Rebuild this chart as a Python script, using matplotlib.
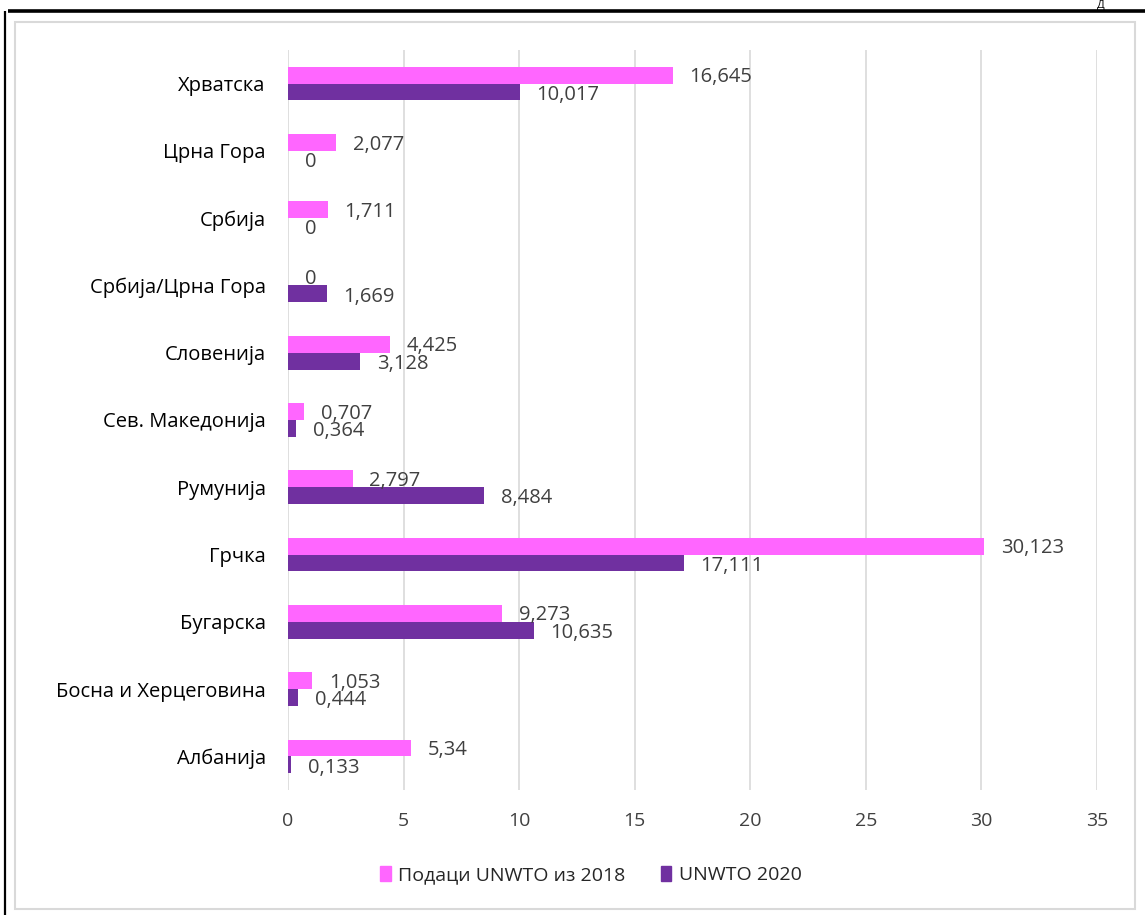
import matplotlib
matplotlib.use("Agg")
import matplotlib.pyplot as plt
from matplotlib.patches import Rectangle, Patch
from matplotlib.lines import Line2D
import numpy as np

plt.rcParams['font.family'] = ['Open Sans', 'DejaVu Sans']

categories = ["Хрватска", "Црна Гора", "Србија", "Србија/Црна Гора", "Словенија",
              "Сев. Македонија", "Румунија", "Грчка", "Бугарска",
              "Босна и Херцеговина", "Албанија"]
series_2018 = [16.645, 2.077, 1.711, 0, 4.425, 0.707, 2.797, 30.123, 9.273, 1.053, 5.34]
series_2020 = [10.017, 0, 0, 1.669, 3.128, 0.364, 8.484, 17.111, 10.635, 0.444, 0.133]
labels_2018 = ["16,645", "2,077", "1,711", "0", "4,425", "0,707", "2,797", "30,123", "9,273", "1,053", "5,34"]
labels_2020 = ["10,017", "0", "0", "1,669", "3,128", "0,364", "8,484", "17,111", "10,635", "0,444", "0,133"]
series_names = ["Подаци UNWTO из 2018", "UNWTO 2020"]
xticks = [0, 5, 10, 15, 20, 25, 30, 35]

PINK = "#FF66FF"
PURPLE = "#7030A0"
W, H = 1145, 915

fig = plt.figure(figsize=(W / 100, H / 100), dpi=100)

def fx(x): return x / W
def fy(y): return 1 - y / H

fig.add_artist(Rectangle((fx(15), fy(909)), fx(1135) - fx(15), fy(22) - fy(909),
                         transform=fig.transFigure, fill=False, edgecolor="#D9D9D9", lw=1.5))
fig.add_artist(Line2D([fx(8), fx(1145)], [fy(10.5), fy(10.5)], transform=fig.transFigure,
                      color="black", lw=2.6, solid_capstyle="butt"))
fig.add_artist(Line2D([fx(4.5), fx(4.5)], [fy(11), fy(915)], transform=fig.transFigure,
                      color="black", lw=1.6, solid_capstyle="butt"))
fig.text(fx(1101), fy(0), "Д", ha="center", va="top", fontsize=8, color="black")

ax = fig.add_axes([fx(288), fy(790), fx(1097) - fx(288), fy(50) - fy(790)])

y = np.arange(len(categories))
h = 0.25
ax.barh(y - h / 2, series_2018, height=h, color=PINK, label=series_names[0])
ax.barh(y + h / 2, series_2020, height=h, color=PURPLE, label=series_names[1])

for yi, v, t in zip(y, series_2018, labels_2018):
    ax.annotate(t, (v, yi - h / 2), xytext=(12, -1.5), textcoords="offset points",
                ha="left", va="center", fontsize=14.5, color="#404040")
for yi, v, t in zip(y, series_2020, labels_2020):
    ax.annotate(t, (v, yi + h / 2), xytext=(12, -2), textcoords="offset points",
                ha="left", va="center", fontsize=14.5, color="#404040")

ax.set_xlim(0, 35)
ax.set_ylim(len(categories) - 0.5, -0.5)
ax.set_xticks(xticks)
ax.set_xticklabels([str(t) for t in xticks])
ax.set_yticks(y)
ax.set_yticklabels(categories)
ax.tick_params(axis="y", length=0, pad=16, labelsize=14.5, labelcolor="black")
ax.tick_params(axis="x", length=0, pad=16, labelsize=14, labelcolor="#404040")
for s in ax.spines.values():
    s.set_visible(False)
ax.grid(axis="x", color="#D9D9D9", lw=1.2)
ax.set_axisbelow(True)

handles = [Patch(color=PINK), Patch(color=PURPLE)]
fig.legend(handles, series_names, loc="center", bbox_to_anchor=(fx(591), fy(875)),
           ncol=2, frameon=False, fontsize=14, handlelength=0.55, handleheight=0.8,
           handletextpad=0.4, columnspacing=1.8, labelcolor="#262626")

fig.savefig("out.png", dpi=100)
